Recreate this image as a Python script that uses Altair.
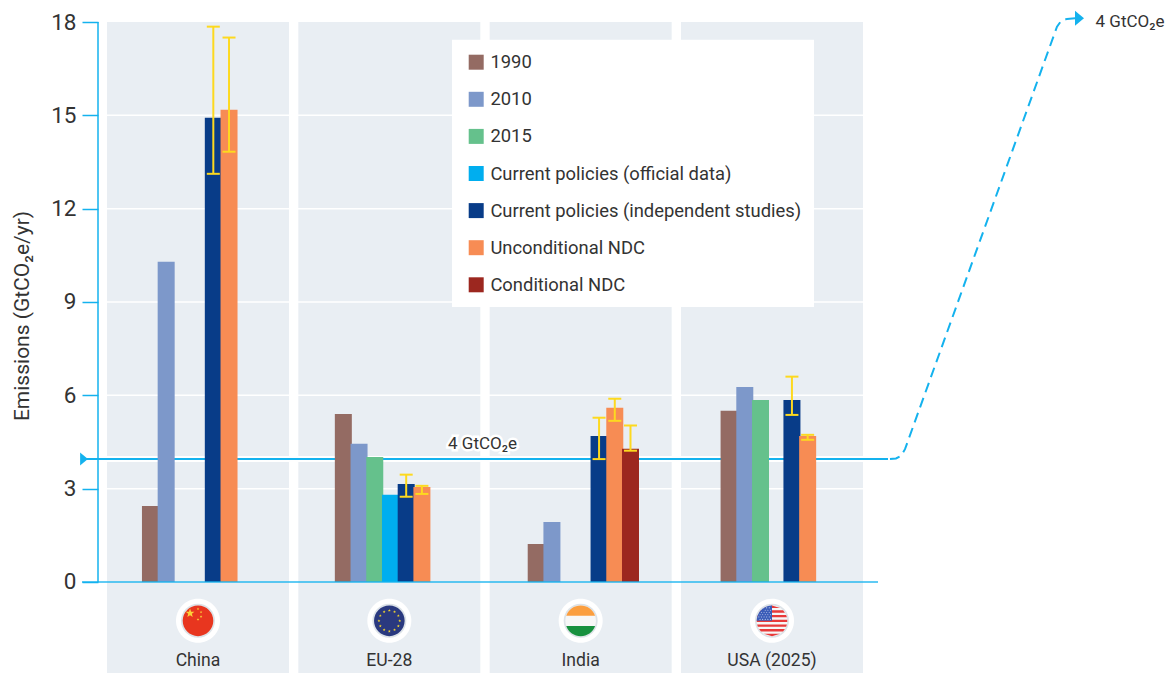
import math
import altair as alt
import pandas as pd

groups = ["China", "EU-28", "India", "USA (2025)"]
series = ["1990", "2010", "2015", "Current policies (official data)",
          "Current policies (independent studies)", "Unconditional NDC", "Conditional NDC"]
colors = ["#946b63", "#7d98ca", "#65c18c", "#00aeef", "#083c88", "#f78c54", "#9c271f"]

china_vals = [2.44, 10.29, None, None, 14.92, 15.18, None]
eu_vals = [5.4, 4.44, 4.02, 2.8, 3.15, 3.05, None]
india_vals = [1.22, 1.93, None, None, 4.69, 5.6, 4.28]
usa_vals = [5.5, 6.27, 5.85, None, 5.85, 4.69, None]

err_group = ["China", "China", "EU-28", "EU-28", "India", "India", "India", "USA (2025)", "USA (2025)"]
err_series = [series[4], series[5], series[4], series[5], series[4], series[5], series[6], series[4], series[5]]
err_low = [13.12, 13.83, 2.74, 2.83, 3.95, 5.18, 4.22, 5.37, 4.57]
err_high = [17.85, 17.5, 3.45, 3.09, 5.28, 5.89, 5.03, 6.6, 4.73]

y_ticks = [0, 3, 6, 9, 12, 15, 18]
grid_vals = [3, 6, 9, 12, 15]
Y_MIN, Y_MAX = -2.926, 18
threshold = 3.95

FONT = "Roboto"
INK = "#333333"
BLUE = "#14b2ee"
YELLOW = "#fdd91f"
PANEL = "#e9eef3"

W, H = 1067, 651
px_scale = alt.Scale(domain=[98, 1165], range=[0, W])
y_scale = alt.Scale(domain=[Y_MIN, Y_MAX], nice=False, zero=False)
y_axis = alt.Axis(
    values=y_ticks, grid=False, domain=False, tickColor=BLUE, tickWidth=1.5, tickSize=16,
    labelFont=FONT, labelFontSize=22.5, labelColor=INK, labelPadding=6, format="d",
    title="Emissions (GtCO₂e/yr)", titleFont=FONT, titleFontSize=21, titleFontWeight="normal",
    titleColor=INK, titleX=-76, titleY=293.5, titleAngle=-90, titleAlign="center",
    titleBaseline="middle")
panel_x = alt.X("group:N", sort=groups, axis=None,
                scale=alt.Scale(type="band", domain=groups, range=[9, 765], paddingInner=0.0488, paddingOuter=0))
bar_x = alt.X("group:N", sort=groups, axis=None,
              scale=alt.Scale(type="band", domain=groups, range=[3.2, 774.7], paddingInner=0, paddingOuter=0))
bar_off = alt.XOffset("series:N", sort=series,
                      scale=alt.Scale(type="band", domain=series, range=[41.4, 151.4], paddingInner=0, paddingOuter=0))
Y = lambda f="y": alt.Y(f"{f}:Q", scale=y_scale, axis=y_axis)


def circle_path():
    return "M-1,0A1,1 0 1,1 1,0A1,1 0 1,1 -1,0Z"


def star(cx, cy, r):
    pts = []
    for i in range(10):
        a = -math.pi / 2 + i * math.pi / 5
        rr = r if i % 2 == 0 else r * 0.42
        pts.append(f"{cx + rr * math.cos(a):.3f},{cy + rr * math.sin(a):.3f}")
    return "M" + "L".join(pts) + "Z"


def seg(y0, y1):
    a0, a1 = math.sqrt(max(0, 1 - y0 * y0)), math.sqrt(max(0, 1 - y1 * y1))
    return f"M{-a0:.3f},{y0:.3f}L{a0:.3f},{y0:.3f}L{a1:.3f},{y1:.3f}L{-a1:.3f},{y1:.3f}Z"


china_stars = star(-0.52, -0.5, 0.3) + "".join(star(x, y, 0.09) for x, y in
                                               [(0, -0.78), (0.2, -0.57), (0.2, -0.28), (0, -0.09)])
eu_stars = "".join(star(0.68 * math.cos(i * math.pi / 6), 0.68 * math.sin(i * math.pi / 6), 0.1)
                   for i in range(12))
india_top = "M-0.943,-0.333A1,1 0 0,1 0.943,-0.333Z"
india_bot = "M-0.943,0.333A1,1 0 0,0 0.943,0.333Z"
usa_stripes = "".join(seg(-1 + i * 2 / 13, -1 + (i + 1) * 2 / 13) for i in range(0, 13, 2))
usa_canton = "M0,0L-1,0A1,1 0 0,1 0,-1Z"
usa_dots = "".join(star(-0.1 - 0.17 * c - (0.08 if r % 2 else 0), -0.1 - 0.15 * r, 0.05)
                   for r in range(6) for c in range(6)
                   if (0.1 + 0.17 * c) ** 2 + (0.1 + 0.15 * r) ** 2 < 0.85)

OUTER, RING, FLAG = 44 ** 2, 34 ** 2, 30.6 ** 2
flag_rows = []
for g in groups:
    flag_rows.append((g, circle_path(), "#ffffff", OUTER))
    flag_rows.append((g, circle_path(), "#dde3e8", RING))
flag_rows += [
    ("China", circle_path(), "#e8361f", FLAG), ("China", china_stars, "#fbd13a", FLAG),
    ("EU-28", circle_path(), "#2a397f", FLAG), ("EU-28", eu_stars, "#f0d22e", FLAG),
    ("India", circle_path(), "#f7f7f7", FLAG), ("India", india_top, "#fb9e3f", FLAG),
    ("India", india_bot, "#18913f", FLAG),
    ("USA (2025)", circle_path(), "#f6f6f6", FLAG), ("USA (2025)", usa_stripes, "#e83a3a", FLAG),
    ("USA (2025)", usa_canton, "#3b5cb8", FLAG), ("USA (2025)", usa_dots, "#dfe6f5", FLAG),
]
flags_df = pd.DataFrame(flag_rows, columns=["group", "path", "fill", "size"])
flags_df["y"] = -1.25
flags_df["ord"] = range(len(flags_df))

rows = []
for g, vals in zip(groups, [china_vals, eu_vals, india_vals, usa_vals]):
    for s, v in zip(series, vals):
        if v is not None:
            rows.append({"group": g, "series": s, "value": v, "base": 0})
bars_df = pd.DataFrame(rows)
err_df = pd.DataFrame({"group": err_group, "series": err_series, "low": err_low, "high": err_high})

panels = alt.Chart(pd.DataFrame({"group": groups, "y": [Y_MAX] * 4, "y2": [Y_MIN] * 4})).mark_bar(
    color=PANEL).encode(x=panel_x, y=Y(), y2="y2:Q")

grid = alt.Chart(pd.DataFrame({"y": grid_vals, "a": [107] * 5, "b": [863] * 5})).mark_rule(
    color="white", strokeWidth=1.5).encode(
    x=alt.X("a:Q", scale=px_scale, axis=None), x2="b:Q", y=Y())

line_df = pd.DataFrame({"y": [threshold], "a": [82], "b": [888]})
casing = alt.Chart(line_df).mark_rule(color="white", strokeWidth=6).encode(
    x=alt.X("a:Q", scale=px_scale, axis=None), x2="b:Q", y=Y())
hline = alt.Chart(line_df).mark_rule(color=BLUE, strokeWidth=2).encode(
    x=alt.X("a:Q", scale=px_scale, axis=None), x2="b:Q", y=Y())

leader_x = [890, 896, 901, 905, 1057, 1061, 1067, 1076]
leader_y = [3.95, 3.97, 4.05, 4.27, 17.85, 18.03, 18.1, 18.12]
leader = alt.Chart(pd.DataFrame({"x": leader_x, "y": leader_y})).mark_line(
    color=BLUE, strokeWidth=2, strokeDash=[10, 6]).encode(
    x=alt.X("x:Q", scale=px_scale, axis=None), y=Y(), order="x:Q")

arrow_path = "M-0.6,-1L0.6,0L-0.6,1Z"
arrows = alt.Chart(pd.DataFrame({"x": [84, 1079.5], "y": [3.95, 18.12], "size": [13 ** 2, 15 ** 2]})).mark_point(
    shape=arrow_path, filled=True, color=BLUE, strokeWidth=0, opacity=1).encode(
    x=alt.X("x:Q", scale=px_scale, axis=None), y=Y(), size=alt.Size("size:Q", scale=None))

legend_box = alt.Chart(pd.DataFrame({"a": [452], "b": [814], "y": [17.43], "y2": [8.84]})).mark_rect(
    color="white").encode(
    x=alt.X("a:Q", scale=px_scale, axis=None), x2="b:Q", y=Y(), y2="y2:Q")

bars = alt.Chart(bars_df).mark_bar(width=17).encode(
    x=bar_x, xOffset=bar_off,
    y=alt.Y("value:Q", scale=y_scale, axis=y_axis), y2="base:Q",
    color=alt.Color("series:N", scale=alt.Scale(domain=series, range=colors), sort=series,
                    legend=alt.Legend(
                        title=None, orient="none", legendX=369, legendY=31, symbolType="square",
                        symbolSize=225, symbolStrokeWidth=0, symbolOpacity=1, labelFont=FONT,
                        labelFontSize=18.4, labelColor=INK, labelOffset=5, rowPadding=18.1,
                        labelLimit=400, padding=0, zindex=5)))

err_rule = alt.Chart(err_df).mark_rule(color=YELLOW, strokeWidth=2).encode(
    x=bar_x, xOffset=bar_off, y=alt.Y("low:Q", scale=y_scale, axis=y_axis), y2="high:Q")
err_lo = alt.Chart(err_df).mark_tick(color=YELLOW, thickness=2, size=13, orient="horizontal", opacity=1).encode(
    x=bar_x, xOffset=bar_off, y=alt.Y("low:Q", scale=y_scale, axis=y_axis))
err_hi = alt.Chart(err_df).mark_tick(color=YELLOW, thickness=2, size=13, orient="horizontal", opacity=1).encode(
    x=bar_x, xOffset=bar_off, y=alt.Y("high:Q", scale=y_scale, axis=y_axis))

axis_h = alt.Chart(pd.DataFrame({"y": [0], "a": [82], "b": [878]})).mark_rule(
    color=BLUE, strokeWidth=1.5, opacity=0.9).encode(
    x=alt.X("a:Q", scale=px_scale, axis=None), x2="b:Q", y=Y())
axis_v = alt.Chart(pd.DataFrame({"y": [0], "y2": [18], "a": [98]})).mark_rule(
    color=BLUE, strokeWidth=1.5).encode(
    x=alt.X("a:Q", scale=px_scale, axis=None), y=Y(), y2="y2:Q")

flags = alt.Chart(flags_df).mark_point(filled=True, strokeWidth=0, opacity=1).encode(
    x=panel_x, y=Y(),
    shape=alt.Shape("path:N", scale=None),
    fill=alt.Fill("fill:N", scale=None),
    size=alt.Size("size:Q", scale=None),
    order="ord:Q")

labels = alt.Chart(pd.DataFrame({"group": groups, "y": [-2.54] * 4})).mark_text(
    font=FONT, fontSize=17.6, color=INK, baseline="middle").encode(
    x=panel_x, y=Y(), text="group:N")

note_df = pd.DataFrame({"x": [482.5], "y": [4.42], "t": ["4 GtCO₂e"]})
halo = alt.Chart(note_df).mark_text(font=FONT, fontSize=17, color="white", stroke="white",
                                    strokeWidth=5, baseline="middle").encode(
    x=alt.X("x:Q", scale=px_scale, axis=None), y=Y(), text="t:N")
note = alt.Chart(note_df).mark_text(font=FONT, fontSize=17, color=INK, baseline="middle").encode(
    x=alt.X("x:Q", scale=px_scale, axis=None), y=Y(), text="t:N")
note2 = alt.Chart(pd.DataFrame({"x": [1130], "y": [18.0], "t": ["4 GtCO₂e"]})).mark_text(
    font=FONT, fontSize=17, color=INK, baseline="middle").encode(
    x=alt.X("x:Q", scale=px_scale, axis=None), y=Y(), text="t:N")

chart = alt.layer(
    panels, grid, casing, hline, leader, legend_box, bars, err_rule, err_lo, err_hi,
    axis_h, axis_v, arrows, flags, labels, halo, note, note2
).resolve_scale(x="independent", xOffset="independent").properties(
    width=W, height=H,
    autosize=alt.AutoSizeParams(type="none"),
    padding={"left": 90, "top": 14, "right": 0, "bottom": 0},
).configure_view(stroke=None)

chart.save("out.html", embed_options={"renderer": "svg", "actions": False})
